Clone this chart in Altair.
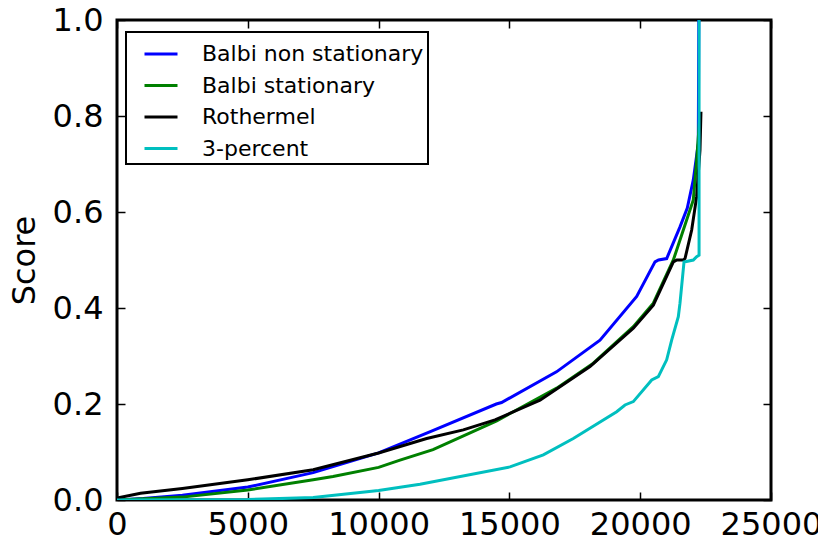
import altair as alt
import pandas as pd

# Series names and colours
series_names = ["Balbi non stationary", "Balbi stationary", "Rothermel", "3-percent"]
series_colors = ["#0000ff", "#008000", "#000000", "#00bfbf"]

# Sorted scores per model (x = rank of the sample, y = score)
balbi_ns_x = [0, 1000, 2500, 5000, 7500, 10000, 12000, 14500, 14700, 16800,
              18463, 19866, 20566, 20700, 21012, 21521, 21800, 22030, 22221, 22240]
balbi_ns_y = [0.0, 0.003, 0.01, 0.027, 0.057, 0.098, 0.143, 0.2, 0.203, 0.267,
              0.333, 0.424, 0.496, 0.5, 0.503, 0.569, 0.608, 0.667, 0.743, 1.0]

balbi_st_x = [0, 2500, 5000, 7500, 8257, 10000, 10818, 12080, 14514, 16808,
              18209, 19737, 20502, 21267, 22030, 22158, 22280]
balbi_st_y = [0.0, 0.006, 0.021, 0.042, 0.049, 0.068, 0.083, 0.105, 0.165, 0.233,
              0.285, 0.361, 0.41, 0.5, 0.625, 0.708, 0.8]

rothermel_x = [0, 900, 2500, 5000, 7500, 10000, 11838, 13238, 14450, 16170,
               18081, 19737, 20502, 21267, 21400, 21650, 21713, 21968, 22158, 22285, 22323]
rothermel_y = [0.004, 0.014, 0.024, 0.042, 0.063, 0.098, 0.128, 0.146, 0.167, 0.208,
               0.278, 0.358, 0.406, 0.496, 0.5, 0.5, 0.503, 0.5625, 0.632, 0.729, 0.809]

three_pct_x = [0, 5000, 7500, 10000, 11583, 15023, 16297, 17443, 19101, 19419,
               19737, 20440, 20693, 21012, 21203, 21457, 21521, 21675, 22030, 22158,
               22250, 22250]
three_pct_y = [0.0, 0.001, 0.005, 0.02, 0.033, 0.069, 0.094, 0.128, 0.184, 0.198,
               0.205, 0.25, 0.257, 0.292, 0.333, 0.382, 0.41, 0.496, 0.5, 0.507,
               0.51, 1.0]

x_ticks = [0, 5000, 10000, 15000, 20000, 25000]
y_ticks = [0.0, 0.2, 0.4, 0.6, 0.8, 1.0]

rows = []
for name, xs, ys in zip(series_names,
                        [balbi_ns_x, balbi_st_x, rothermel_x, three_pct_x],
                        [balbi_ns_y, balbi_st_y, rothermel_y, three_pct_y]):
    for i, (xv, yv) in enumerate(zip(xs, ys)):
        rows.append({"series": name, "n": xv, "score": yv, "idx": i})
df = pd.DataFrame(rows)

FONT = "DejaVu Sans"
x_scale = alt.Scale(domain=[0, 25000], nice=False, zero=False)
y_scale = alt.Scale(domain=[0, 1], nice=False, zero=False)

tick_style = dict(
    offset=-8, tickSize=8, tickWidth=1.5, tickColor="black",
    domain=False, grid=False, labelOverlap=False, labelFlush=False,
)

x_axis_bottom = alt.Axis(orient="bottom", values=x_ticks, format="d", title=None,
                         labelFont=FONT, labelFontSize=32, labelColor="black",
                         labelPadding=9, **tick_style)
y_axis_left = alt.Axis(orient="left", values=y_ticks, format=".1f", title="Score",
                       labelFont=FONT, labelFontSize=32, labelColor="black",
                       labelPadding=14, titleFont=FONT, titleFontSize=32,
                       titleFontWeight="normal", titleColor="black", titlePadding=11,
                       **tick_style)
x_axis_top = alt.Axis(orient="top", values=x_ticks, title=None, labels=False, **tick_style)
y_axis_right = alt.Axis(orient="right", values=y_ticks, title=None, labels=False, **tick_style)

color = alt.Color(
    "series:N",
    scale=alt.Scale(domain=series_names, range=series_colors),
    legend=alt.Legend(
        title=None, orient="none", legendX=9, legendY=12,
        symbolType="stroke", symbolSize=1089, symbolStrokeWidth=3,
        symbolOffset=13, labelOffset=23,
        labelFont=FONT, labelFontSize=22, labelColor="black", labelLimit=0,
        fillColor="white", strokeColor="black", padding=4, rowPadding=2.5,
        cornerRadius=0,
    ),
)

layers = []
for k, name in enumerate(series_names):
    first = k == 0
    layers.append(
        alt.Chart(df)
        .transform_filter(alt.datum.series == name)
        .mark_line(strokeWidth=3, clip=True)
        .encode(
            x=alt.X("n:Q", scale=x_scale, axis=x_axis_bottom if first else None),
            y=alt.Y("score:Q", scale=y_scale, axis=y_axis_left if first else None),
            color=color,
            order="idx:Q",
        )
    )

# Mirrored tick marks on the top and right edges
mirror = (
    alt.Chart(df)
    .mark_point(opacity=0)
    .encode(
        x=alt.X("n:Q", scale=x_scale, axis=x_axis_top),
        y=alt.Y("score:Q", scale=y_scale, axis=y_axis_right),
    )
)

chart = (
    alt.layer(*layers, mirror)
    .resolve_axis(x="independent", y="independent")
    .properties(
        width=654, height=480,
        autosize=alt.AutoSizeParams(type="none"),
        padding={"left": 117, "top": 20, "right": 47, "bottom": 41},
        background="white",
    )
    .configure_view(stroke="black", strokeWidth=3)
    .configure_legend(strokeWidth=2)
)

chart.save("out.html", embed_options={"renderer": "svg", "actions": False})
